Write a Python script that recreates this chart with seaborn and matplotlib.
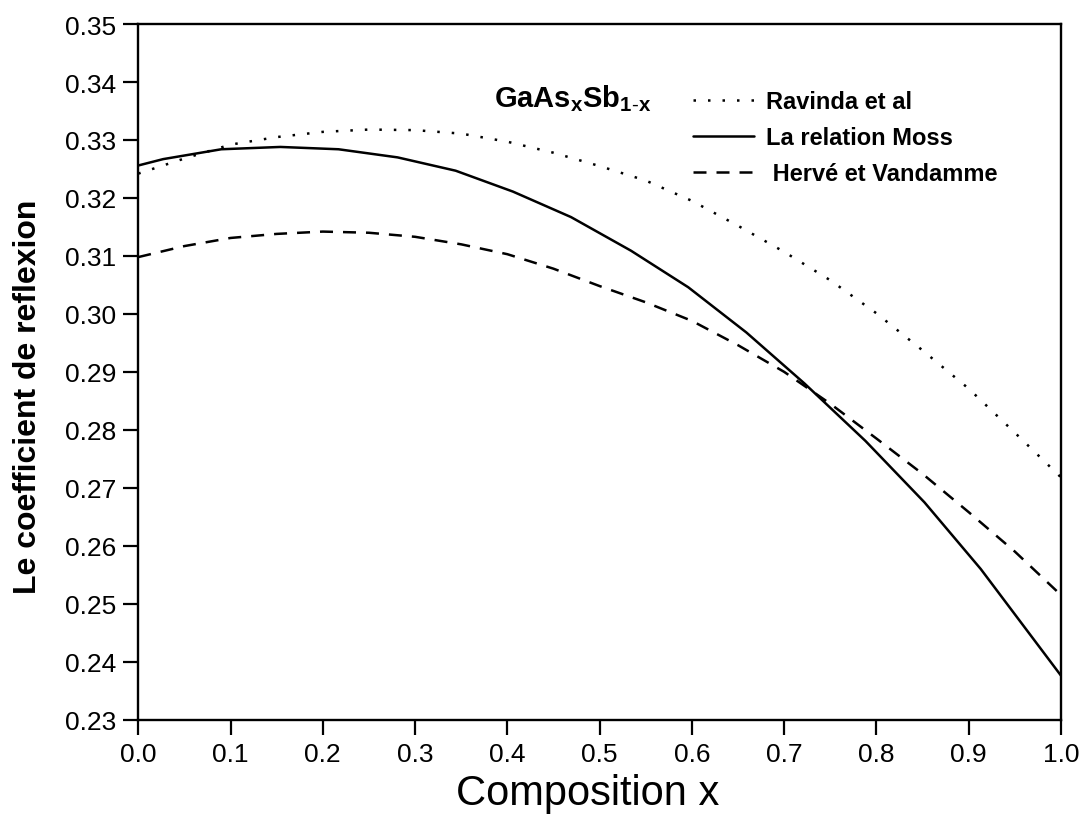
import numpy as np
import pandas as pd
import matplotlib
matplotlib.use("Agg")
import matplotlib.pyplot as plt
import seaborn as sns
from matplotlib.lines import Line2D

# ---- data ----
x_moss = [0.0, 0.027, 0.090, 0.154, 0.217, 0.281, 0.344, 0.406, 0.469, 0.534,
          0.596, 0.659, 0.722, 0.788, 0.852, 0.913, 1.0]
y_moss = [0.3256, 0.3267, 0.3284, 0.3288, 0.3284, 0.3270, 0.3247, 0.3211, 0.3167, 0.3109,
          0.3046, 0.2968, 0.2880, 0.2781, 0.2675, 0.2560, 0.2376]

x_grid = [0.0, 0.05, 0.1, 0.15, 0.2, 0.25, 0.3, 0.35, 0.4, 0.45, 0.5,
          0.55, 0.6, 0.65, 0.7, 0.75, 0.8, 0.85, 0.9, 0.95, 1.0]
y_ravinda = [0.3242, 0.3268, 0.3292, 0.3305, 0.3314, 0.3318, 0.3317, 0.3311, 0.3297, 0.3278, 0.3255,
             0.3230, 0.3195, 0.3152, 0.3107, 0.3058, 0.3001, 0.2937, 0.2871, 0.2795, 0.2718]
y_herve = [0.3098, 0.3117, 0.3131, 0.3138, 0.3142, 0.3140, 0.3133, 0.3120, 0.3103, 0.3078, 0.3048,
           0.3020, 0.2988, 0.2946, 0.2900, 0.2845, 0.2785, 0.2724, 0.2658, 0.2590, 0.2515]

labels = ["Ravinda et al", "La relation Moss", " Hervé et Vandamme"]
xticks = [0.0, 0.1, 0.2, 0.3, 0.4, 0.5, 0.6, 0.7, 0.8, 0.9, 1.0]
yticks = [0.23, 0.24, 0.25, 0.26, 0.27, 0.28, 0.29, 0.30, 0.31, 0.32, 0.33, 0.34, 0.35]

sns.set_style("ticks")
plt.rcParams["font.family"] = ["Liberation Sans", "DejaVu Sans"]
plt.rcParams["mathtext.fontset"] = "custom"
plt.rcParams["mathtext.rm"] = "Liberation Sans"
plt.rcParams["mathtext.bf"] = "Liberation Sans:bold"
plt.rcParams["mathtext.it"] = "Liberation Sans:italic"
for k in ["text.color", "axes.labelcolor", "xtick.color", "ytick.color", "axes.edgecolor"]:
    plt.rcParams[k] = "black"

fig = plt.figure(figsize=(10.86, 8.29), dpi=100)
ax = fig.add_axes([0.1273, 0.1306, 0.8497, 0.8392])

lw = 1.8
dot_style = (0, (1, 4.8))
dash_style = (0, (5.2, 4))

sns.lineplot(x=x_grid, y=y_ravinda, ax=ax, color="black", linewidth=lw,
             linestyle=dot_style, legend=False)
sns.lineplot(x=x_moss, y=y_moss, ax=ax, color="black", linewidth=lw, legend=False)
sns.lineplot(x=x_grid, y=y_herve, ax=ax, color="black", linewidth=lw,
             linestyle=dash_style, legend=False)

ax.set_xlim(0, 1)
ax.set_ylim(0.23, 0.35)
ax.set_xticks(xticks)
ax.set_xticklabels([f"{v:.1f}" for v in xticks])
ax.set_yticks(yticks)
ax.set_yticklabels([f"{v:.2f}" for v in yticks])
ax.tick_params(direction="out", length=11, width=1.6, labelsize=19, pad=5, colors="black")
for s in ax.spines.values():
    s.set_visible(True)
    s.set_linewidth(1.7)
    s.set_color("black")

ax.set_xlabel("Composition x", fontsize=30)
ax.xaxis.set_label_coords(0.487, -0.076)
ax.set_ylabel("Le coefficient de reflexion", fontsize=23, fontweight="bold")
ax.yaxis.set_label_coords(-0.103, 0.465)

ax.text(0.3855, 0.3359, r"$\mathbf{GaAs_{x}Sb_{1\text{-}x}}$", fontsize=21, va="baseline", ha="left")

handles = [
    Line2D([], [], color="black", linewidth=lw, linestyle=dot_style),
    Line2D([], [], color="black", linewidth=lw),
    Line2D([], [], color="black", linewidth=lw, linestyle=dash_style),
]
leg = ax.legend(handles, labels, loc="upper left", bbox_to_anchor=(0.601, 0.905),
                frameon=False, borderpad=0, borderaxespad=0, handlelength=2.6,
                handletextpad=0.5, labelspacing=0.55,
                prop={"size": 17, "weight": "bold"})

fig.savefig("out.png", dpi=100)
